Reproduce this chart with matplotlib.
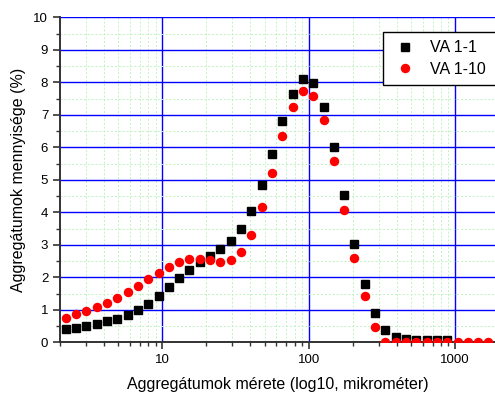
import matplotlib
matplotlib.use("Agg")
import matplotlib.pyplot as plt
from matplotlib.ticker import LogLocator, MultipleLocator, FixedLocator, NullFormatter

plt.rcParams["font.family"] = ["Liberation Sans", "DejaVu Sans"]

# particle size classes (micrometre)
sizes = [2.19, 2.58, 3.03, 3.56, 4.19, 4.93, 5.79, 6.81, 8.01, 9.42,
         11.08, 13.03, 15.32, 18.02, 21.2, 24.93, 29.31, 34.47, 40.54, 47.68,
         56.07, 65.92, 77.51, 91.17, 107.2, 126.1, 148.3, 174.4, 205.1, 241.2,
         283.6, 333.4, 392.1, 461.1, 542.3, 637.7, 750.0, 881.9, 1037, 1220,
         1434, 1687]

va_1_1 = [0.40, 0.45, 0.50, 0.57, 0.65, 0.73, 0.85, 0.99, 1.19, 1.43,
          1.69, 1.97, 2.24, 2.46, 2.67, 2.86, 3.12, 3.48, 4.04, 4.83,
          5.79, 6.80, 7.64, 8.10, 7.98, 7.24, 6.01, 4.53, 3.03, 1.79,
          0.90, 0.38, 0.16, 0.09, 0.07, 0.07, 0.06, 0.06]

va_1_10 = [0.74, 0.86, 0.96, 1.09, 1.21, 1.36, 1.54, 1.73, 1.94, 2.14,
           2.33, 2.48, 2.56, 2.56, 2.52, 2.47, 2.53, 2.79, 3.31, 4.16,
           5.22, 6.34, 7.25, 7.74, 7.59, 6.83, 5.57, 4.07, 2.60, 1.42,
           0.46, 0.01, 0.0, 0.0, 0.0, 0.0, 0.0, 0.0, 0.0, 0.0,
           0.0, 0.0]

fig = plt.figure(figsize=(4.95, 3.94), dpi=100)
ax = fig.add_axes([0.1212, 0.1312, 0.8788, 0.8249])

ax.plot(sizes[:len(va_1_1)], va_1_1, "s", color="black", markersize=5.2,
        label="VA 1-1", zorder=3)
ax.plot(sizes, va_1_10, "o", color="#ff0000", markersize=5.8,
        label="VA 1-10", zorder=3)

ax.set_xscale("log")
ax.set_xlim(2.0, 1870)
ax.set_ylim(0, 10)

ax.xaxis.set_major_locator(FixedLocator([10, 100, 1000]))
ax.xaxis.set_minor_locator(LogLocator(base=10, subs=range(2, 10)))
ax.xaxis.set_minor_formatter(NullFormatter())
ax.set_xticklabels(["10", "100", "1000"])
ax.yaxis.set_major_locator(MultipleLocator(1))
ax.yaxis.set_minor_locator(MultipleLocator(0.5))

ax.grid(which="minor", color="#c0f2c0", linestyle=(0, (2, 2)), linewidth=0.7)
ax.grid(which="major", color="#0000ff", linestyle="-", linewidth=1.0)
ax.set_axisbelow(True)

for side in ("top", "right"):
    ax.spines[side].set_visible(False)
for side in ("left", "bottom"):
    ax.spines[side].set_linewidth(1.4)
    ax.spines[side].set_color("#333333")

ax.tick_params(which="major", direction="out", length=5, width=1.2,
               labelsize=9.5, color="#333333")
ax.tick_params(which="minor", direction="out", length=3, width=1.0,
               color="#333333")

ax.set_xlabel("Aggregátumok mérete (log10, mikrométer)", fontsize=11.5,
              labelpad=8)
ax.set_ylabel("Aggregátumok mennyisége (%)", fontsize=11.5, labelpad=5)

# legend box runs off the right edge of the figure, as in the original
leg = ax.legend(loc="upper left", bbox_to_anchor=(0.7432, 0.0, 0.4, 0.9538),
                mode="expand", fontsize=11.5, frameon=True, fancybox=False,
                borderpad=0.5, handletextpad=0.72, labelspacing=0.4,
                handlelength=1.7, borderaxespad=0)
leg.get_frame().set_edgecolor("black")
leg.get_frame().set_linewidth(1.0)
leg.get_frame().set_alpha(1.0)

fig.savefig("out.png", dpi=100)
